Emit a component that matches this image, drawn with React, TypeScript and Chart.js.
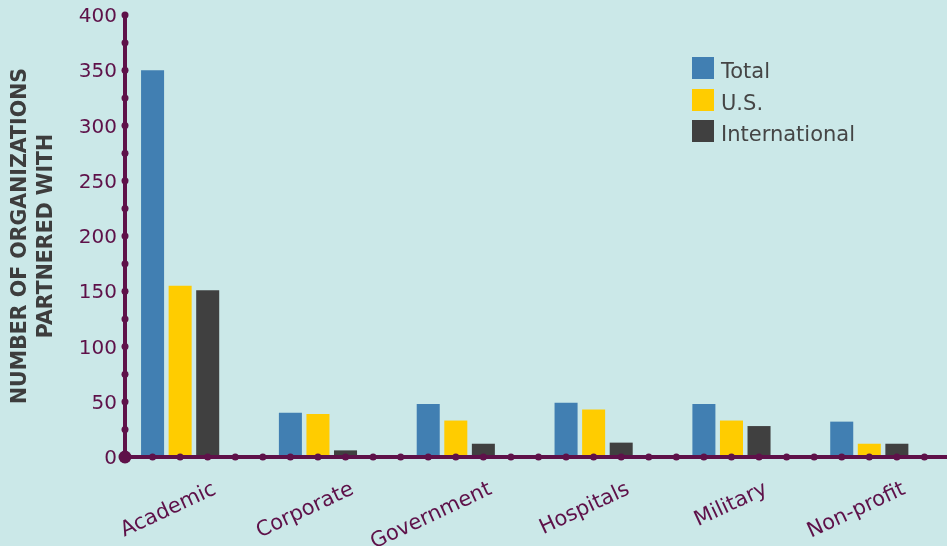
import React, { useEffect, useRef } from 'react';
import { Chart, registerables } from 'chart.js';

Chart.register(...registerables);

const categories = ['Academic', 'Corporate', 'Government', 'Hospitals', 'Military', 'Non-profit'];
const totalValues = [350, 40, 48, 49, 48, 32];
const usValues = [155, 39, 33, 43, 33, 12];
const intlValues = [151, 6, 12, 13, 28, 12];
const seriesNames = ['Total', 'U.S.', 'International'];
const seriesColors = ['#417fb2', '#ffcc00', '#404040'];
const yMin = 0;
const yMax = 400;
const yStep = 50;
const dotStep = 25;
const yTitle = ['NUMBER OF ORGANIZATIONS', 'PARTNERED WITH'];

const PURPLE = '#5e1149';
const BG = '#cbe8e8';
const FONT = '"DejaVu Sans", sans-serif';

const axisDots = {
  id: 'axisDots',
  afterDatasetsDraw(chart: any) {
    const { ctx, chartArea, scales } = chart;
    const x = scales.x;
    const y = scales.y;
    const x0 = chartArea.left;
    const y0 = y.getPixelForValue(yMin);
    const yTop = y.getPixelForValue(yMax);
    ctx.save();
    ctx.strokeStyle = PURPLE;
    ctx.fillStyle = PURPLE;
    ctx.lineWidth = 4;
    ctx.beginPath();
    ctx.moveTo(x0, yTop);
    ctx.lineTo(x0, y0);
    ctx.lineTo(x.right + 10, y0);
    ctx.stroke();
    const dot = (cx: number, cy: number, r: number) => {
      ctx.beginPath();
      ctx.arc(cx, cy, r, 0, Math.PI * 2);
      ctx.fill();
    };
    for (let v = yMin + dotStep; v <= yMax; v += dotStep) dot(x0, y.getPixelForValue(v), 3.5);
    const n = categories.length * 5;
    const step = (x.right - x.left) / n;
    for (let i = 1; i <= n; i++) dot(x.left + i * step, y0, 3.5);
    dot(x0, y0, 6.5);
    ctx.restore();
  },
};

export default function App() {
  const ref = useRef<HTMLCanvasElement>(null);
  useEffect(() => {
    document.body.style.margin = '0';
    const chart = new Chart(ref.current as HTMLCanvasElement, {
      type: 'bar',
      data: {
        labels: categories,
        datasets: [
          { label: seriesNames[0], data: totalValues, backgroundColor: seriesColors[0] },
          { label: seriesNames[1], data: usValues, backgroundColor: seriesColors[1] },
          { label: seriesNames[2], data: intlValues, backgroundColor: seriesColors[2] },
          { label: '', data: categories.map(() => null), backgroundColor: 'rgba(0,0,0,0)' },
        ],
      },
      options: {
        responsive: false,
        animation: false,
        devicePixelRatio: 1,
        categoryPercentage: 0.8,
        barPercentage: 0.835,
        layout: { padding: { top: 15, right: 8, left: 0, bottom: 0 } },
        plugins: { legend: { display: false }, tooltip: { enabled: false } },
        scales: {
          x: {
            grid: { display: false, drawTicks: false },
            border: { display: false },
            ticks: {
              color: PURPLE,
              font: { family: FONT, size: 21 },
              maxRotation: 25,
              minRotation: 25,
              labelOffset: 21,
              padding: 20,
              autoSkip: false,
            },
            afterFit: (s: any) => { s.height = 89; s.paddingLeft = 0; s.paddingRight = 0; },
          },
          y: {
            min: yMin,
            max: yMax,
            grid: { display: false, drawTicks: false },
            border: { display: false },
            ticks: {
              stepSize: yStep,
              color: PURPLE,
              font: { family: FONT, size: 20 },
              padding: 8,
              labelOffset: 2,
            },
            title: {
              display: true,
              text: yTitle,
              color: '#3d3d3d',
              font: { family: FONT, size: 20.5, weight: 'bold', lineHeight: 1.3 },
              padding: { top: 7, bottom: 0 },
            },
            afterFit: (s: any) => { s.width = 125; s.paddingTop = 0; s.paddingBottom = 0; },
          },
        },
      },
      plugins: [axisDots],
    } as any);
    return () => chart.destroy();
  }, []);

  return (
    <div style={{ position: 'absolute', left: 0, top: 0, width: 947, height: 546, overflow: 'hidden', background: BG }}>
      <canvas ref={ref} width={960} height={546} style={{ display: 'block', width: 960, height: 546 }} />
      {seriesNames.map((name, i) => (
        <div key={name} style={{ position: 'absolute', left: 692, top: 57 + i * 31.7, height: 22 }}>
          <div style={{ position: 'absolute', left: 0, top: 0, width: 22, height: 22, background: seriesColors[i] }} />
          <div style={{ position: 'absolute', left: 29, top: 3, lineHeight: '22px', fontSize: 21, fontFamily: FONT, color: '#454545', whiteSpace: 'nowrap' }}>{name}</div>
        </div>
      ))}
    </div>
  );
}
